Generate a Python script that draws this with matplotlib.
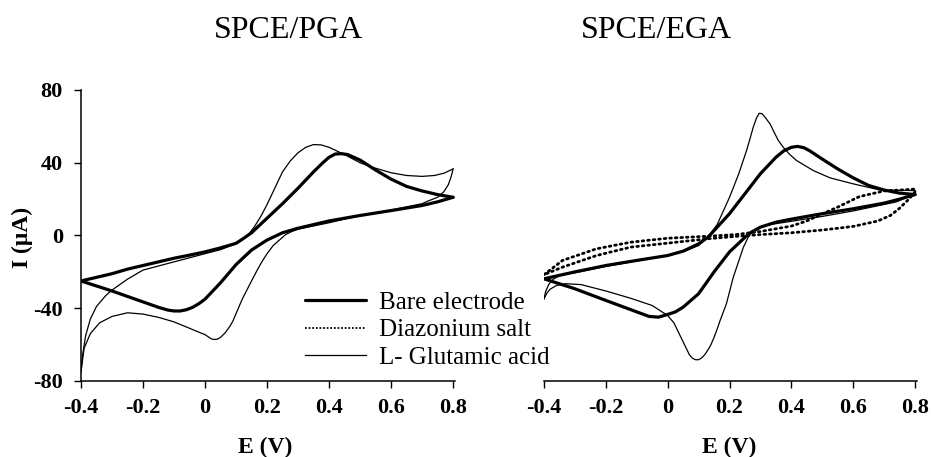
import matplotlib
matplotlib.use("Agg")
import matplotlib.pyplot as plt
from matplotlib.lines import Line2D

plt.rcParams['font.family'] = ['Liberation Serif', 'DejaVu Serif']

# ---------------- Data: SPCE/PGA (left) ----------------
pga_bare_fwd_x = [-0.40, -0.35, -0.30, -0.25, -0.20, -0.15, -0.10, -0.05, 0.00, 0.05, 0.10, 0.125,
                  0.15, 0.20, 0.25, 0.30, 0.35, 0.38, 0.40, 0.42, 0.44, 0.46, 0.48, 0.50, 0.55,
                  0.60, 0.65, 0.70, 0.75, 0.80]
pga_bare_fwd_y = [-25, -23, -21, -18.5, -16.5, -14.5, -12.5, -10.8, -9, -6.8, -4.3, -1.5,
                  1.5, 9.5, 17.5, 26, 35, 40, 43, 44.8, 45, 44.5, 43, 41.5, 36,
                  31, 27, 24.5, 22.5, 21]
pga_bare_rev_x = [0.80, 0.75, 0.70, 0.60, 0.50, 0.40, 0.30, 0.25, 0.20, 0.15, 0.10, 0.05, 0.025,
                  0.00, -0.02, -0.04, -0.06, -0.08, -0.10, -0.12, -0.15, -0.20, -0.30, -0.40]
pga_bare_rev_y = [21, 18.5, 16.5, 13.7, 11, 8, 4, 1.5, -2.5, -8, -16, -26, -30.5,
                  -35, -37.5, -39.5, -40.8, -41.5, -41.5, -41, -39.5, -36.5, -30.5, -25]

pga_glu_fwd_x = [-0.400, -0.395, -0.385, -0.370, -0.350, -0.320, -0.300, -0.250, -0.200, -0.100,
                 0.000, 0.050, 0.100, 0.120, 0.140, 0.160, 0.180, 0.200, 0.225, 0.250, 0.275,
                 0.300, 0.325, 0.350, 0.375, 0.400, 0.425, 0.450, 0.500, 0.550, 0.600, 0.650,
                 0.700, 0.740, 0.770, 0.800]
pga_glu_fwd_y = [-75, -66, -55, -46, -39, -33, -30, -24, -19, -14.5,
                 -10, -7.8, -4.5, -2.5, 0.5, 5, 10.5, 17, 26, 35, 41,
                 45.5, 48.5, 50, 49.8, 48.5, 46.5, 44.5, 40, 37, 34.5, 33,
                 32.5, 33, 34.2, 36.6]
pga_glu_rev_x = [0.800, 0.795, 0.785, 0.770, 0.750, 0.720, 0.700, 0.600, 0.500, 0.400, 0.300,
                 0.280, 0.260, 0.240, 0.220, 0.200, 0.185, 0.170, 0.150, 0.135, 0.120, 0.100,
                 0.090, 0.080, 0.065, 0.050, 0.040, 0.030, 0.020, 0.000, -0.025, -0.050,
                 -0.100, -0.150, -0.200, -0.250, -0.300, -0.340, -0.370, -0.390, -0.400]
pga_glu_rev_y = [36.6, 33, 28, 24, 21, 19, 17.5, 14, 11, 7, 3.5,
                 2.2, 0.5, -2.5, -5.5, -10, -14, -18.5, -25, -30, -35, -43,
                 -47, -50, -53.5, -56, -57, -57.2, -56.8, -54.5, -52.8, -51,
                 -47.5, -45, -43.2, -42.5, -44.5, -48, -54, -62, -75]

# ---------------- Data: SPCE/EGA (right) ----------------
ega_bare_fwd_x = [-0.40, -0.30, -0.20, -0.10, 0.00, 0.05, 0.10, 0.13, 0.15, 0.20, 0.25, 0.30,
                  0.35, 0.375, 0.40, 0.42, 0.44, 0.46, 0.50, 0.55, 0.60, 0.65, 0.70, 0.75, 0.80]
ega_bare_fwd_y = [-23.8, -20, -16.5, -13.7, -11, -8.6, -4.6, -1, 2.7, 12, 23, 34,
                  43, 46.5, 48.5, 49, 48.3, 46.5, 42, 36.6, 31.7, 27.5, 25, 23.3, 22.5]
ega_bare_rev_x = [0.80, 0.75, 0.70, 0.60, 0.50, 0.40, 0.35, 0.30, 0.27, 0.25, 0.20, 0.15, 0.10,
                  0.05, 0.025, 0.00, -0.03, -0.06, -0.10, -0.20, -0.30, -0.40]
ega_bare_rev_y = [22.5, 20, 17.8, 14.7, 12, 9, 7.3, 4.6, 1.8, -1, -9, -20, -32,
                  -39.4, -42, -43.4, -44.9, -44.5, -42, -35.7, -29.3, -23.8]

ega_diaz_fwd_x = [-0.40, -0.34, -0.23, -0.12, 0.00, 0.13, 0.22, 0.30, 0.40, 0.45, 0.50, 0.55,
                  0.62, 0.70, 0.80]
ega_diaz_fwd_y = [-21.5, -13.7, -7.3, -3.7, -1.5, -0.4, 0.5, 2.2, 5.2, 8, 11.9, 15.6,
                  21.4, 24.5, 25.5]
ega_diaz_rev_x = [0.80, 0.78, 0.75, 0.72, 0.68, 0.60, 0.50, 0.40, 0.30, 0.22, 0.13, 0.00,
                  -0.12, -0.23, -0.34, -0.40]
ega_diaz_rev_y = [24, 20, 15, 11, 8, 5, 3, 1.5, 0.5, -0.5, -1.8, -4.2,
                  -6.4, -11, -17.4, -21.5]

ega_glu_fwd_x = [-0.400, -0.395, -0.385, -0.370, -0.350, -0.300, -0.200, -0.100, 0.000, 0.050,
                 0.100, 0.130, 0.160, 0.200, 0.230, 0.255, 0.265, 0.277, 0.287, 0.296, 0.305,
                 0.315, 0.331, 0.345, 0.358, 0.374, 0.395, 0.417, 0.471, 0.525, 0.600, 0.687,
                 0.800]
ega_glu_fwd_y = [-34.8, -31, -27, -24, -22, -20.5, -17, -14, -11, -9,
                 -5.5, -1, 6, 21, 34, 46.7, 52.5, 59.7, 64.5, 67.2, 67,
                 65, 61.4, 56.5, 52.2, 48.5, 44.5, 41.2, 35.7, 31.7, 28.4, 25,
                 24.7]
ega_glu_rev_x = [0.800, 0.740, 0.600, 0.500, 0.400, 0.330, 0.300, 0.266, 0.245, 0.212, 0.190,
                 0.169, 0.160, 0.150, 0.140, 0.130, 0.120, 0.110, 0.100, 0.090, 0.080, 0.070,
                 0.060, 0.050, 0.040, 0.020, 0.000, -0.050, -0.120, -0.200, -0.280, -0.330,
                 -0.360, -0.380, -0.390, -0.400]
ega_glu_rev_y = [23, 18.5, 13.5, 10.5, 7.8, 6, 4.8, 1, -6.4, -23, -37.5,
                 -47, -51.5, -56, -60, -63, -65.5, -67.3, -68.3, -68.3, -67.5, -65.5,
                 -62, -58.5, -55, -48, -44, -38.5, -34.5, -30.5, -27, -26.5,
                 -27.5, -29.5, -31.5, -34.8]

titles = ["SPCE/PGA", "SPCE/EGA"]
legend_labels = ["Bare electrode", "Diazonium salt", "L- Glutamic acid"]
xticks = [-0.4, -0.2, 0, 0.2, 0.4, 0.6, 0.8]
xticklabels = ["-0.4", "-0.2", "0", "0.2", "0.4", "0.6", "0.8"]
yticks = [-80, -40, 0, 40, 80]
yticklabels = ["-80", "-40", "0", "40", "80"]

W, H = 931, 457
fig = plt.figure(figsize=(W / 100, H / 100), dpi=100)

bottom = 1 - 381 / H
height = 291 / H
axL = fig.add_axes([81 / W, bottom, 373.6 / W, height])
axR = fig.add_axes([544 / W, bottom, 372.6 / W, height])

thick = dict(color='black', lw=2.3, solid_capstyle='round', solid_joinstyle='round')
thin = dict(color='black', lw=0.9, solid_joinstyle='round')
dotted = dict(color='black', lw=2.0, linestyle=(0, (0.6, 1.4)), dash_capstyle='round')

axL.plot(pga_bare_fwd_x, pga_bare_fwd_y, **thick)
axL.plot(pga_bare_rev_x, pga_bare_rev_y, **thick)
axL.plot(pga_glu_fwd_x, pga_glu_fwd_y, **thin)
axL.plot(pga_glu_rev_x, pga_glu_rev_y, **thin)

axR.plot(ega_diaz_fwd_x, ega_diaz_fwd_y, **dotted)
axR.plot(ega_diaz_rev_x, ega_diaz_rev_y, **dotted)
axR.plot(ega_bare_fwd_x, ega_bare_fwd_y, **thick)
axR.plot(ega_bare_rev_x, ega_bare_rev_y, **thick)
axR.plot(ega_glu_fwd_x, ega_glu_fwd_y, **thin)
axR.plot(ega_glu_rev_x, ega_glu_rev_y, **thin)

tickfont = dict(family='Liberation Serif', weight='bold', size=16)
for ax in (axL, axR):
    ax.set_xlim(-0.4, 0.805)
    ax.set_ylim(-80, 80)
    ax.spines['top'].set_visible(False)
    ax.spines['right'].set_visible(False)
    ax.set_xticks(xticks)
    ax.set_xticklabels(xticklabels, fontdict=tickfont)
    ax.tick_params(axis='x', direction='out', length=5, width=1, pad=7)
    ax.patch.set_alpha(0)
    for sp in ax.spines.values():
        sp.set_linewidth(1.1)

axL.set_yticks(yticks)
axL.set_yticklabels(yticklabels, fontdict=tickfont)
axL.tick_params(axis='y', direction='out', length=5, width=1, pad=8)
axR.spines['left'].set_visible(False)
axR.set_yticks([])

# Axis labels and titles
fig.text(22 / W, 1 - 237 / H, "I (μA)", rotation=90, ha='center', va='center',
         fontsize=17, fontweight='bold')
fig.text(265 / W, 1 - 447 / H, "E (V)", ha='center', va='center', fontsize=17, fontweight='bold')
fig.text(729 / W, 1 - 447 / H, "E (V)", ha='center', va='center', fontsize=17, fontweight='bold')
fig.text(289 / W, 1 - 30 / H, titles[0], ha='center', va='center', fontsize=23)
fig.text(656 / W, 1 - 30 / H, titles[1], ha='center', va='center', fontsize=23)

handles = [Line2D([], [], **thick), Line2D([], [], color='black', lw=1.3, linestyle=(0, (1, 1))),
           Line2D([], [], **thin)]
fig.legend(handles, legend_labels, loc='center left', bbox_to_anchor=(305 / W, 1 - 330 / H),
           frameon=False, fontsize=18, handlelength=2.45, handletextpad=0.5,
           labelspacing=0.2, borderpad=0, borderaxespad=0)

fig.savefig("out.png", dpi=100)
